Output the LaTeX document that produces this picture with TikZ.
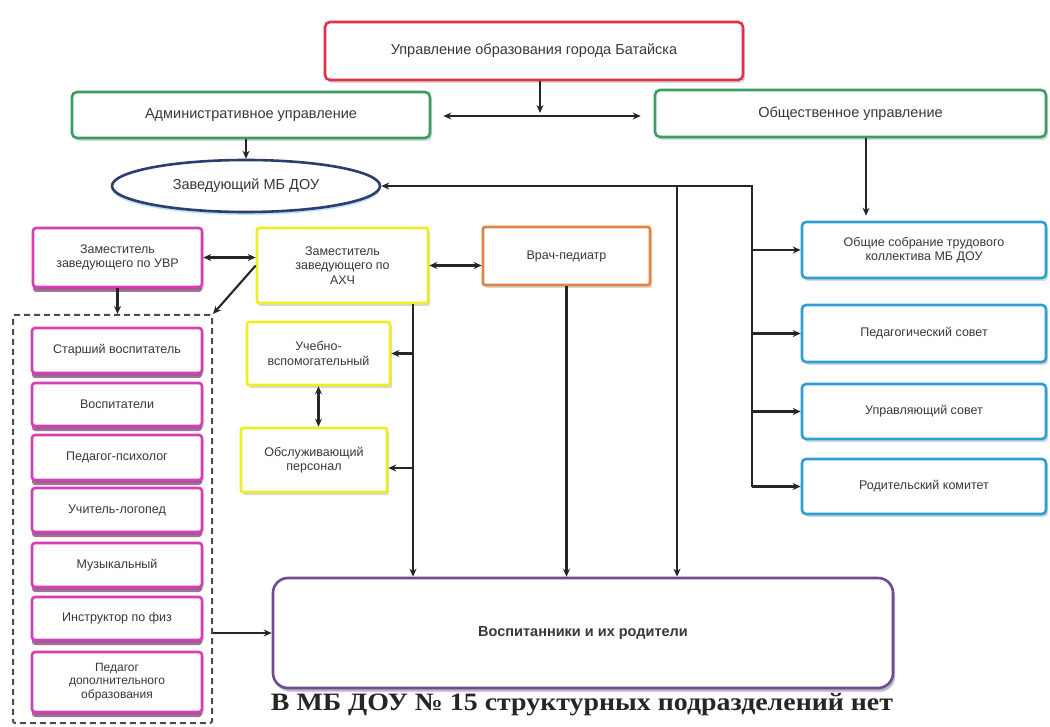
\documentclass[tikz,border=0pt]{standalone}
\usepackage{fontspec}
\setmainfont{Liberation Sans}
\newfontfamily\serifnote{Liberation Serif}
\usetikzlibrary{arrows.meta,shadows,shapes.geometric}
\definecolor{cred}{HTML}{E0304A}
\definecolor{cgreen}{HTML}{3A9E62}
\definecolor{cnavy}{HTML}{2C3E6E}
\definecolor{cmag}{HTML}{D43FB4}
\definecolor{cyel}{HTML}{EEEE22}
\definecolor{corange}{HTML}{E4843C}
\definecolor{cblue}{HTML}{2E9ED8}
\definecolor{cpurp}{HTML}{6E4C92}
\tikzset{
  box/.style={draw, rounded corners=5pt, line width=2.6pt, fill=white, align=center,
    inner sep=2pt, font=\fontsize{12.5}{14.5}\selectfont, text=black!78,
    drop shadow={opacity=0.3, shadow xshift=2pt, shadow yshift=-3pt}},
  bigbox/.style={box, font=\fontsize{14.5}{16}\selectfont},
  magbox/.style={box, draw=cmag, rounded corners=3pt,
    drop shadow={fill=cmag!55!black, opacity=0.65, shadow xshift=0pt, shadow yshift=-5pt}},
  yelbox/.style={box, draw=cyel, rounded corners=2pt},
  bluebox/.style={box, draw=cblue, rounded corners=4pt},
  sz/.style 2 args={minimum width=#1pt, minimum height=#2pt},
  arr/.style={-{Stealth[length=8pt,width=7pt]}, line width=2.1pt, draw=black!85},
  darr/.style={{Stealth[length=8pt,width=7pt]}-{Stealth[length=8pt,width=7pt]}, line width=2.1pt, draw=black!85}
}
\begin{document}
\begin{tikzpicture}[x=1pt,y=-1pt]
\useasboundingbox (0,0) rectangle (1050,727);
\fill[white] (0,0) rectangle (1050,727);

% top level
\node[bigbox, draw=cred, sz={418}{58}] (top) at (534,51) {Управление образования города Батайска};
\node[bigbox, draw=cgreen, sz={358}{46}] (adm) at (251,115) {Административное управление};
\node[bigbox, draw=cgreen, sz={391}{47}] (pub) at (850.5,113.5) {Общественное управление};
\node[ellipse, draw=cnavy, line width=2.6pt, fill=white, sz={268}{52}, font=\fontsize{14.5}{16}\selectfont, text=black!78,
  drop shadow={fill=cblue!60, opacity=0.5, shadow xshift=0pt, shadow yshift=-3pt}] (ell) at (246,186) {Заведующий МБ ДОУ};

% deputies
\node[magbox, sz={169}{59}] (uvr) at (117.5,257.5) {Заместитель\\заведующего по УВР};
\node[yelbox, sz={171}{75}] (ahc) at (342.5,265.5) {Заместитель\\заведующего по\\АХЧ};
\node[box, draw=corange, rounded corners=2pt, sz={167}{58}] (vr) at (566.5,256) {Врач-педиатр};

% dashed group
\node[draw=black!70, dashed, dash pattern=on 6pt off 4pt, line width=2pt, rounded corners=2pt, sz={199}{408}] (grp) at (112.5,519) {};
\node[magbox, sz={170}{45}] (st) at (117,350.5) {Старший воспитатель};
\node[magbox, sz={170}{43}] (vosp) at (117,404.5) {Воспитатели};
\node[magbox, sz={170}{45}] (psy) at (117,457.5) {Педагог-психолог};
\node[magbox, sz={170}{44}] (logo) at (117,510) {Учитель-логопед};
\node[magbox, sz={170}{44}] (mus) at (117,565) {Музыкальный};
\node[magbox, sz={170}{43}] (instr) at (117,618.5) {Инструктор по физ};
\node[magbox, sz={170}{60}, font=\fontsize{12}{13.5}\selectfont] (dop) at (117,682) {Педагог\\дополнительного\\образования};

% support staff
\node[yelbox, sz={143}{63}] (ucheb) at (318.5,353.5) {Учебно-\\вспомогательный};
\node[yelbox, sz={146}{64}] (obs) at (314,460) {Обслуживающий\\персонал};

% councils
\node[bluebox, sz={244}{56}] (ob1) at (924,250) {Общие собрание трудового\\коллектива МБ ДОУ};
\node[bluebox, sz={244}{57}] (ob2) at (924,333.5) {Педагогический совет};
\node[bluebox, sz={244}{55}] (ob3) at (924,411.5) {Управляющий совет};
\node[bluebox, sz={244}{55}] (ob4) at (924,486.5) {Родительский комитет};

% pupils
\node[box, draw=cpurp, rounded corners=15pt, sz={620}{110}, font=\bfseries\fontsize{14.5}{16}\selectfont,
  drop shadow={fill=cpurp!70, opacity=0.4, shadow xshift=2pt, shadow yshift=-4pt}] (vos) at (583,633) {Воспитанники и их родители};

\node[font=\serifnote\bfseries\fontsize{25}{27}\selectfont, text=black!85, inner sep=0pt, anchor=base] (note) at (582,710)
  {\scalebox{1.115}[1]{В МБ ДОУ № 15 структурных подразделений нет}};

% helper coordinates
\coordinate (hj) at (540,116);
\coordinate (pd) at (866,0);
\coordinate (rv) at (752,0);
\coordinate (mv) at (677,0);
\coordinate (av) at (413,0);
\coordinate (obsj) at (413,468);

% connectors
\draw[arr, shorten >=3pt] (top.south -| hj) -- (hj);
\draw[arr, shorten >=12pt] (hj) -- (hj -| adm.east);
\draw[arr, shorten >=13pt] (hj) -- (hj -| pub.west);
\draw[arr] (adm.south -| ell.north) -- (ell.north);
\draw[arr, shorten >=5pt] (pub.south -| pd) -- (ob1.north -| pd);

\draw[arr] (ob4.west -| rv) -- (ell.east -| rv) -- (ell.east);
\draw[arr] (ob1.west -| rv) -- (ob1.west);
\draw[arr] (ob2.west -| rv) -- (ob2.west);
\draw[arr] (ob3.west -| rv) -- (ob3.west);
\draw[arr] (ob4.west -| rv) -- (ob4.west);

\draw[arr] (ell.east -| mv) -- (vos.north -| mv);
\draw[arr] (vr.south) -- (vr.south |- vos.north);
\draw[arr] (ahc.south -| av) -- (vos.north -| av);
\draw[arr] (ucheb.east -| av) -- (ucheb.east);
\draw[arr] (obsj) -- (obsj -| obs.east);
\draw[darr] (ucheb.south) -- (ucheb.south |- obs.north);

\draw[darr] (uvr.east) -- (uvr.east -| ahc.west);
\draw[darr] (ahc.east) -- (ahc.east -| vr.west);
\draw[arr] (ahc.west) -- (grp.north east);
\draw[arr] (uvr.south) -- (uvr.south |- grp.north);
\draw[arr] (grp.east |- vos.west) -- (vos.west);
\end{tikzpicture}
\end{document}
